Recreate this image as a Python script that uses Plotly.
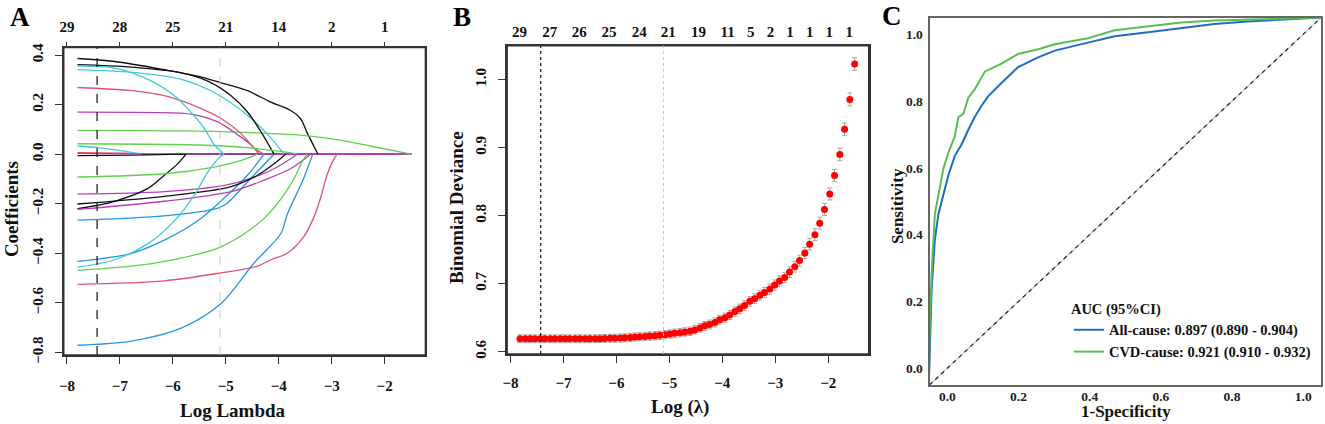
import plotly.graph_objects as go

FONT = "Liberation Serif"

# ---------------- Panel A: lasso coefficient paths ----------------
# knots (log lambda, coefficient)
black1_x = [-7.80, -7.10, -6.16, -5.53, -5.09, -4.59, -4.15, -3.78, -3.59, -3.46, -3.26]
black1_y = [0.386, 0.374, 0.341, 0.315, 0.288, 0.256, 0.210, 0.177, 0.144, 0.085, 0.0]
black2_x = [-7.80, -6.78, -5.84, -5.34, -4.90, -4.59, -4.34, -4.09]
black2_y = [0.361, 0.351, 0.328, 0.295, 0.236, 0.170, 0.092, 0.0]
cyan1_x = [-7.80, -6.78, -5.84, -5.22, -4.59, -4.15, -3.90]
cyan1_y = [0.341, 0.330, 0.302, 0.249, 0.157, 0.066, 0.0]
cyan2_x = [-7.80, -7.10, -6.47, -5.97, -5.66, -5.41, -5.22, -5.03]
cyan2_y = [0.355, 0.347, 0.302, 0.236, 0.170, 0.105, 0.039, 0.0]
red1_x = [-7.80, -6.78, -6.16, -5.53, -5.09, -4.72, -4.47, -4.28]
red1_y = [0.269, 0.256, 0.236, 0.190, 0.144, 0.085, 0.026, 0.0]
mag1_x = [-7.80, -5.84, -5.60, -5.16, -4.78, -4.53, -4.37]
mag1_y = [0.170, 0.166, 0.160, 0.131, 0.079, 0.039, 0.0]
green1_x = [-7.80, -5.50, -4.28, -3.50, -2.90, -2.27, -1.50]
green1_y = [0.096, 0.093, 0.085, 0.075, 0.059, 0.033, 0.0]
green2_x = [-7.80, -5.50, -4.59, -3.96, -3.65]
green2_y = [0.042, 0.037, 0.026, 0.011, 0.0]
cyan3_x = [-7.80, -7.41, -6.78, -6.60]
cyan3_y = [0.033, 0.026, 0.007, 0.0]
black3_x = [-7.80, -7.10, -6.47, -6.16, -5.91, -5.75]
black3_y = [-0.220, -0.190, -0.138, -0.085, -0.039, 0.0]
green3_x = [-7.80, -6.16, -5.22, -4.72, -4.40]
green3_y = [-0.092, -0.079, -0.052, -0.026, 0.0]
mag2_x = [-7.80, -6.16, -5.00, -4.53, -4.09, -3.65]
mag2_y = [-0.161, -0.151, -0.125, -0.098, -0.059, 0.0]
mag3_x = [-7.80, -6.16, -4.90, -4.28, -3.78, -3.40]
mag3_y = [-0.223, -0.190, -0.151, -0.105, -0.059, 0.0]
black4_x = [-7.80, -6.16, -4.90, -4.40, -4.09, -3.87]
black4_y = [-0.201, -0.170, -0.131, -0.085, -0.039, 0.0]
blue1_x = [-7.80, -6.16, -5.16, -4.97, -4.53, -4.09]
blue1_y = [-0.266, -0.249, -0.219, -0.197, -0.098, 0.0]
cyan4_x = [-7.80, -7.10, -6.47, -5.97, -5.59, -5.34, -5.12, -5.03]
cyan4_y = [-0.456, -0.426, -0.361, -0.269, -0.164, -0.072, -0.013, 0.0]
blue2_x = [-7.80, -6.78, -6.16, -5.53, -5.03, -4.59, -4.28]
blue2_y = [-0.433, -0.400, -0.347, -0.269, -0.177, -0.085, 0.0]
green4_x = [-7.80, -6.78, -6.16, -5.09, -4.28, -3.78, -3.53, -3.46]
green4_y = [-0.469, -0.452, -0.433, -0.374, -0.260, -0.125, -0.020, 0.0]
red2_x = [-7.80, -6.16, -5.09, -4.40, -4.15, -3.84, -3.53, -3.34, -3.21, -3.09, -2.99, -2.90]
red2_y = [-0.525, -0.511, -0.479, -0.452, -0.426, -0.400, -0.334, -0.256, -0.177, -0.085, -0.033, 0.0]
blue3_x = [-7.80, -6.78, -5.84, -5.09, -4.47, -3.96, -3.84, -3.53, -3.36]
blue3_y = [-0.771, -0.754, -0.702, -0.603, -0.440, -0.320, -0.243, -0.098, 0.0]
blackz_x = [-7.80, -6.80, -5.75]
blackz_y = [-0.006, -0.004, 0.0]
redz_x = [-7.80, -6.90, -6.20]
redz_y = [0.006, 0.004, 0.0]
magz_x = [-7.80, -7.00, -6.60]
magz_y = [0.003, 0.002, 0.0]

top_a_vals = [-8, -7, -6, -5, -4, -3, -2]
top_a_text = ["29", "28", "25", "21", "14", "2", "1"]
log_lambda_min = -7.43
log_lambda_1se = -5.11
path_end = -1.5

# ---------------- Panel B: cross-validation deviance ----------------
log_lambda = [-7.82, -7.72, -7.63, -7.54, -7.44, -7.35, -7.25, -7.16, -7.06, -6.97,
              -6.88, -6.78, -6.69, -6.59, -6.50, -6.40, -6.31, -6.22, -6.12, -6.03,
              -5.93, -5.84, -5.74, -5.65, -5.56, -5.46, -5.37, -5.27, -5.18, -5.08,
              -4.99, -4.90, -4.80, -4.71, -4.61, -4.52, -4.42, -4.33, -4.24, -4.14,
              -4.05, -3.95, -3.86, -3.76, -3.67, -3.58, -3.48, -3.39, -3.29, -3.20,
              -3.10, -3.01, -2.92, -2.82, -2.73, -2.63, -2.54, -2.44, -2.35, -2.25,
              -2.16, -2.07, -1.97, -1.88, -1.78, -1.69, -1.59, -1.50]
deviance = [0.619, 0.619, 0.619, 0.619, 0.619, 0.619, 0.619, 0.619, 0.619, 0.619,
            0.619, 0.619, 0.619, 0.619, 0.619, 0.619, 0.6192, 0.6194, 0.6196, 0.6198,
            0.620, 0.6205, 0.621, 0.6215, 0.622, 0.6225, 0.623, 0.6235, 0.624, 0.625,
            0.626, 0.627, 0.628, 0.629, 0.630, 0.632, 0.635, 0.638, 0.640, 0.643,
            0.647, 0.650, 0.654, 0.659, 0.663, 0.668, 0.674, 0.678, 0.683, 0.687,
            0.692, 0.698, 0.704, 0.709, 0.717, 0.725, 0.734, 0.745, 0.758, 0.772,
            0.789, 0.809, 0.832, 0.859, 0.890, 0.927, 0.971, 1.023]
deviance_se = [0.0058, 0.0058, 0.0058, 0.0058, 0.0058, 0.0058, 0.0058, 0.0058, 0.0058, 0.0058,
               0.0058, 0.0058, 0.0058, 0.0058, 0.0058, 0.0058, 0.0058, 0.0058, 0.0058, 0.0059,
               0.0059, 0.0059, 0.0059, 0.0059, 0.0060, 0.0060, 0.0060, 0.0060, 0.0061, 0.0061,
               0.0061, 0.0062, 0.0062, 0.0062, 0.0063, 0.0063, 0.0064, 0.0064, 0.0065, 0.0065,
               0.0066, 0.0067, 0.0067, 0.0068, 0.0069, 0.0070, 0.0070, 0.0071, 0.0072, 0.0073,
               0.0074, 0.0075, 0.0076, 0.0077, 0.0078, 0.0079, 0.0080, 0.0082, 0.0084, 0.0086,
               0.0087, 0.0088, 0.0089, 0.0090, 0.0091, 0.0093, 0.0094, 0.0095]
top_b_vals = [-7.83, -7.26, -6.70, -6.14, -5.57, -5.02, -4.45, -3.90, -3.46, -3.09,
              -2.72, -2.35, -1.98, -1.60]
top_b_text = ["29", "27", "26", "25", "24", "21", "19", "11", "5", "2", "1", "1", "1", "1"]

# ---------------- Panel C: ROC curves ----------------
allcause_fpr = [-0.052, -0.049, -0.044, -0.035, -0.025, -0.011, 0.003, 0.021, 0.040, 0.059,
                0.077, 0.096, 0.115, 0.152, 0.199, 0.255, 0.302, 0.395, 0.470, 0.564,
                0.657, 0.750, 0.844, 0.937, 1.050]
allcause_tpr = [-0.050, 0.095, 0.240, 0.385, 0.462, 0.520, 0.578, 0.636, 0.670, 0.714,
                0.752, 0.786, 0.815, 0.854, 0.902, 0.931, 0.951, 0.975, 0.994, 1.006,
                1.018, 1.031, 1.038, 1.044, 1.050]
cvd_fpr = [-0.052, -0.049, -0.044, -0.035, -0.025, -0.011, 0.003, 0.021, 0.031, 0.045,
           0.059, 0.077, 0.105, 0.152, 0.199, 0.255, 0.302, 0.395, 0.470, 0.564,
           0.657, 0.750, 0.844, 1.050]
cvd_tpr = [-0.050, 0.143, 0.288, 0.462, 0.520, 0.598, 0.646, 0.694, 0.752, 0.762,
           0.810, 0.835, 0.888, 0.912, 0.941, 0.955, 0.970, 0.988, 1.012, 1.023,
           1.035, 1.041, 1.044, 1.050]
roc_range = [-0.05, 1.05]
legend_names = ["All-cause: 0.897 (0.890 - 0.904)", "CVD-cause: 0.921 (0.910 - 0.932)"]

# panel placement (paper fractions)
a_xdom, a_ydom = [0.0445, 0.3185], [0.1462, 0.8939]
b_xdom, b_ydom = [0.3804, 0.6543], [0.1486, 0.8986]
c_xdom, c_ydom = [0.7004, 0.997], [0.0731, 0.967]

COLS = {"black": "#111111", "red": "#DF536B", "green": "#61D04F", "blue": "#2297E6",
        "cyan": "#3DCCDA", "magenta": "#B940B4"}

paths = [
    ("black", black1_x, black1_y), ("red", redz_x, redz_y), ("green", green1_x, green1_y),
    ("blue", blue1_x, blue1_y), ("cyan", cyan1_x, cyan1_y), ("magenta", mag1_x, mag1_y),
    ("black", black2_x, black2_y), ("red", red1_x, red1_y), ("green", green2_x, green2_y),
    ("blue", blue2_x, blue2_y), ("cyan", cyan2_x, cyan2_y), ("magenta", mag2_x, mag2_y),
    ("black", black3_x, black3_y), ("red", red2_x, red2_y), ("green", green3_x, green3_y),
    ("blue", blue3_x, blue3_y), ("cyan", cyan3_x, cyan3_y), ("magenta", mag3_x, mag3_y),
    ("black", black4_x, black4_y), ("green", green4_x, green4_y), ("cyan", cyan4_x, cyan4_y),
    ("black", blackz_x, blackz_y), ("magenta", magz_x, magz_y),
]

fig = go.Figure()

# zero segments after each coefficient drops out (magenta ends on top)
for col, xs, ys in sorted(paths, key=lambda p: p[0] == "magenta"):
    fig.add_trace(go.Scatter(x=[xs[-1], path_end], y=[0, 0], mode="lines",
                             line=dict(color=COLS[col], width=1.3),
                             showlegend=False, hoverinfo="skip", xaxis="x", yaxis="y"))
for col, xs, ys in paths:
    fig.add_trace(go.Scatter(x=xs, y=ys, mode="lines",
                             line=dict(color=COLS[col], width=1.3, shape="spline", smoothing=0.9),
                             showlegend=False, xaxis="x", yaxis="y"))
# carrier for the top axis of A
fig.add_trace(go.Scatter(x=top_a_vals, y=[0] * len(top_a_vals), mode="markers",
                         marker=dict(opacity=0), showlegend=False, hoverinfo="skip",
                         xaxis="x2", yaxis="y"))

# B
fig.add_trace(go.Scatter(x=log_lambda, y=deviance, mode="markers",
                         marker=dict(color="#FF0000", size=7),
                         error_y=dict(type="data", array=deviance_se, color="#A8A8A8",
                                      thickness=1, width=2.5),
                         showlegend=False, xaxis="x3", yaxis="y3"))
fig.add_trace(go.Scatter(x=top_b_vals, y=[0.6] * len(top_b_vals), mode="markers",
                         marker=dict(opacity=0), showlegend=False, hoverinfo="skip",
                         xaxis="x4", yaxis="y3"))

# C
fig.add_trace(go.Scatter(x=roc_range, y=roc_range, mode="lines",
                         line=dict(color="#C8C8C8", width=1.2),
                         showlegend=False, hoverinfo="skip", xaxis="x5", yaxis="y5"))
fig.add_trace(go.Scatter(x=roc_range, y=roc_range, mode="lines",
                         line=dict(color="#222222", width=1.2, dash="4px,4px"),
                         showlegend=False, hoverinfo="skip", xaxis="x5", yaxis="y5"))
fig.add_trace(go.Scatter(x=allcause_fpr, y=allcause_tpr, mode="lines", name=legend_names[0],
                         line=dict(color="#1F6CC4", width=2), xaxis="x5", yaxis="y5"))
fig.add_trace(go.Scatter(x=cvd_fpr, y=cvd_tpr, mode="lines", name=legend_names[1],
                         line=dict(color="#5BBE55", width=2), xaxis="x5", yaxis="y5"))

tickfont = dict(family=FONT, size=15, color="#111111", weight="bold")
ctickfont = dict(family=FONT, size=13.5, color="#222222", weight="bold")
box = dict(showline=True, mirror=True, linecolor="#333333", linewidth=1.5,
           showgrid=False, zeroline=False, ticks="outside", ticklen=7,
           tickcolor="#333333", tickwidth=1.2, tickfont=tickfont)

fig.update_layout(
    width=1325, height=424,
    margin=dict(l=0, r=0, t=0, b=0),
    paper_bgcolor="white", plot_bgcolor="white",
    font=dict(family=FONT, color="#111111"),
    xaxis=dict(domain=a_xdom, anchor="y", range=[-8.06, -1.23],
               tickvals=[-8, -7, -6, -5, -4, -3, -2], ticklabelstandoff=9, **box),
    yaxis=dict(domain=a_ydom, anchor="x", range=[-0.81, 0.43],
               tickvals=[-0.8, -0.6, -0.4, -0.2, 0.0, 0.2, 0.4], tickformat=".1f",
               tickangle=-90, ticklabelstandoff=6, **box),
    xaxis2=dict(overlaying="x", side="top", anchor="y", range=[-8.06, -1.23],
                tickvals=top_a_vals, ticktext=top_a_text, showgrid=False, zeroline=False,
                ticks="outside", ticklen=5, tickcolor="#333333", tickfont=tickfont,
                ticklabelstandoff=4),
    xaxis3=dict(domain=b_xdom, anchor="y3", range=[-8.063, -1.235],
                tickvals=[-8, -7, -6, -5, -4, -3, -2], ticklabelstandoff=7, **box),
    yaxis3=dict(domain=b_ydom, anchor="x3", range=[0.5967, 1.05],
                tickvals=[0.6, 0.7, 0.8, 0.9, 1.0], tickformat=".1f",
                tickangle=-90, ticklabelstandoff=6, **box),
    xaxis4=dict(overlaying="x3", side="top", anchor="y3", range=[-8.063, -1.235],
                tickvals=top_b_vals, ticktext=top_b_text, showgrid=False, zeroline=False,
                ticks="", tickfont=tickfont, ticklabelstandoff=5),
    xaxis5=dict(domain=c_xdom, anchor="y5", range=roc_range,
                tickvals=[0, 0.2, 0.4, 0.6, 0.8, 1.0], tickformat=".1f",
                showline=True, mirror=True, linecolor="#666666", linewidth=2,
                showgrid=False, zeroline=False, ticks="", ticklabelstandoff=-2,
                tickfont=ctickfont),
    yaxis5=dict(domain=c_ydom, anchor="x5", range=roc_range,
                tickvals=[0, 0.2, 0.4, 0.6, 0.8, 1.0], tickformat=".1f",
                showline=True, mirror=True, linecolor="#666666", linewidth=2,
                showgrid=False, zeroline=False, ticks="", ticklabelstandoff=2,
                tickfont=ctickfont),
    legend=dict(x=0.806, y=0.292, xanchor="left", yanchor="top",
                bgcolor="rgba(0,0,0,0)", tracegroupgap=2, itemwidth=30,
                title=dict(text="AUC (95%CI)", font=dict(family=FONT, size=14.5, weight="bold")),
                font=dict(family=FONT, size=14.5, color="#111111", weight="bold")),
)

# plot frames of A and B
for xd, yd in ((a_xdom, a_ydom), (b_xdom, b_ydom)):
    fig.add_shape(type="rect", xref="paper", yref="paper", x0=xd[0], x1=xd[1],
                  y0=yd[0], y1=yd[1], layer="above",
                  line=dict(color="#333333", width=1.5), fillcolor="rgba(0,0,0,0)")

# reference lines for lambda.min / lambda.1se
for ax, yref, dash_min in (("x", "y domain", "dash"), ("x3", "y3 domain", "dot")):
    fig.add_shape(type="line", xref=ax, yref=yref, x0=log_lambda_min, x1=log_lambda_min,
                  y0=0, y1=1, line=dict(color="#222222", width=1.3, dash=dash_min))
    fig.add_shape(type="line", xref=ax, yref=yref, x0=log_lambda_1se, x1=log_lambda_1se,
                  y0=0, y1=1, line=dict(color="#C8C8C8", width=1, dash=dash_min))

title_font = dict(family=FONT, size=19, color="#111111", weight="bold")
letter_font = dict(family=FONT, size=27, color="#000000", weight="bold")
notes = [
    ("A", 0.011, 0.968, 0, 0, letter_font),
    ("B", 0.346, 0.968, 0, 0, letter_font),
    ("C", 0.672, 0.970, 0, 0, letter_font),
    ("Log Lambda", 0.1725, 0.011, 0, 0, title_font),
    ("Coefficients", 0.005, 0.50, -90, 0, title_font),
    ("Log (λ)", 0.5117, 0.020, 0, 0, title_font),
    ("Binomial Deviance", 0.342, 0.505, -90, 0, title_font),
    ("1-Specificity", 0.849, 0.024, 0, -6, dict(title_font, size=17)),
    ("Sensitivity", 0.676, 0.509, -90, 0, dict(title_font, size=17)),
]
for text, x, y, angle, shift, f in notes:
    fig.add_annotation(text=text, x=x, y=y, xref="paper", yref="paper", showarrow=False,
                       textangle=angle, font=f, xanchor="center", yanchor="middle",
                       yshift=shift)

fig.write_html("out.html", config={"displayModeBar": False},
               post_script="document.body.style.margin='0';")
